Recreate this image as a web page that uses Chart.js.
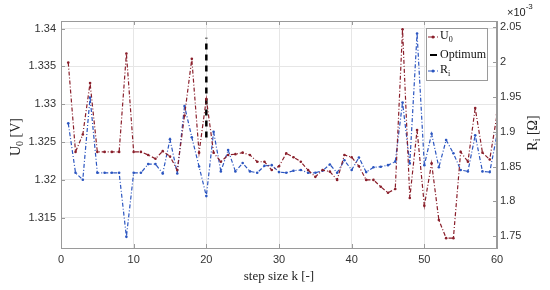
<!DOCTYPE html>
<html>
<head>
<meta charset="utf-8">
<script src="https://cdn.jsdelivr.net/npm/chart.js@4"></script>
<style>
  html, body { margin: 0; padding: 0; background: #fff; }
  #wrap { width: 550px; height: 290px; }
</style>
</head>
<body>
<div id="wrap"><canvas id="chart" width="550" height="290"></canvas></div>
<script>
// step size k = 1..60
const steps = Array.from({ length: 60 }, (_, i) => i + 1);

// U0 [V]
const u0 = [
  1.3355, 1.3237, 1.3260, 1.3328, 1.3237, 1.3237, 1.3237, 1.3237, 1.3367, 1.3237,
  1.3237, 1.3233, 1.3228, 1.3238, 1.3231, 1.3213, 1.3285, 1.3360, 1.3236, 1.3307,
  1.3236, 1.3224, 1.3233, 1.3234, 1.3236, 1.3233, 1.3224, 1.3224, 1.3213, 1.3218,
  1.3235, 1.3230, 1.3224, 1.3213, 1.3204, 1.3213, 1.3211, 1.3200, 1.3233, 1.3230,
  1.3218, 1.3200, 1.3200, 1.3191, 1.3183, 1.3188, 1.3399, 1.3176, 1.3266, 1.3166,
  1.3222, 1.3147, 1.3123, 1.3123, 1.3237, 1.3224, 1.3295, 1.3236, 1.3227, 1.3286
];

// Ri [Ohm] x 1e-3
const ri = [
  1.912, 1.841, 1.831, 1.949, 1.841, 1.841, 1.841, 1.841, 1.749, 1.841,
  1.841, 1.8535, 1.8535, 1.840, 1.889, 1.840, 1.937, 1.892, 1.850, 1.8075,
  1.900, 1.843, 1.8736, 1.843, 1.855, 1.843, 1.841, 1.851, 1.852, 1.842,
  1.841, 1.844, 1.845, 1.841, 1.841, 1.844, 1.853, 1.841, 1.859, 1.845,
  1.863, 1.842, 1.849, 1.8496, 1.852, 1.857, 1.942, 1.8545, 2.041, 1.852,
  1.897, 1.849, 1.888, 1.869, 1.845, 1.843, 1.895, 1.843, 1.842, 1.896
];

// optimum marker (k = 20)
const optK = [20, 20];
const optU = [1.3256, 1.3388];

const xTicks = [0, 10, 20, 30, 40, 50, 60];
const leftTicks = [1.315, 1.32, 1.325, 1.33, 1.335, 1.34];
const rightTicks = [1.75, 1.8, 1.85, 1.9, 1.95, 2, 2.05];

const RED = "#8a1f2b";
const BLUE = "#2b55c0";
const AXIS = "#9a9a9a";
const GRID = "#e6e6e6";
const SERIF = "'Liberation Serif', 'Times New Roman', serif";
const SANS = "'Liberation Sans', Arial, sans-serif";

const fmt = v => String(Number(v.toFixed(3)));

// text with a subscript piece, drawn in the current transform
function subText(ctx, base, sub, rest, x, y, size) {
  ctx.font = size + "px " + SERIF;
  ctx.fillText(base, x, y);
  let w = ctx.measureText(base).width;
  ctx.font = Math.round(size * 0.7) + "px " + SERIF;
  ctx.fillText(sub, x + w, y + size * 0.3);
  w += ctx.measureText(sub).width;
  ctx.font = size + "px " + SERIF;
  ctx.fillText(rest, x + w, y);
}
function subWidth(ctx, base, sub, rest, size) {
  ctx.font = size + "px " + SERIF;
  let w = ctx.measureText(base + rest).width;
  ctx.font = Math.round(size * 0.7) + "px " + SERIF;
  return w + ctx.measureText(sub).width;
}

const decor = {
  id: "decor",
  afterDraw(chart) {
    const { ctx, chartArea: a, scales } = chart;
    ctx.save();

    // box
    ctx.strokeStyle = AXIS;
    ctx.lineWidth = 1;
    ctx.strokeRect(a.left + 0.5, a.top + 0.5, a.right - a.left - 1, a.bottom - a.top);

    // inward ticks
    ctx.beginPath();
    xTicks.forEach(v => {
      const px = Math.round(scales.x.getPixelForValue(v)) + 0.5;
      ctx.moveTo(px, a.bottom); ctx.lineTo(px, a.bottom - 4);
      ctx.moveTo(px, a.top); ctx.lineTo(px, a.top + 4);
    });
    leftTicks.forEach(v => {
      const py = Math.round(scales.y.getPixelForValue(v)) + 0.5;
      ctx.moveTo(a.left, py); ctx.lineTo(a.left + 4, py);
    });
    rightTicks.forEach(v => {
      const py = Math.round(scales.y1.getPixelForValue(v)) + 0.5;
      ctx.moveTo(a.right, py); ctx.lineTo(a.right - 4, py);
    });
    ctx.stroke();

    ctx.fillStyle = "#222";
    ctx.textBaseline = "middle";
    ctx.textAlign = "left";

    // x title
    ctx.font = "13px " + SERIF;
    ctx.textAlign = "center";
    ctx.fillText("step size k [-]", (a.left + a.right) / 2, 277);
    ctx.textAlign = "left";

    // left title
    ctx.save();
    ctx.translate(16, 137);
    ctx.rotate(-Math.PI / 2);
    let w = subWidth(ctx, "U", "0", " [V]", 14);
    subText(ctx, "U", "0", " [V]", -w / 2, 0, 14);
    ctx.restore();

    // right title
    ctx.save();
    ctx.translate(533, 133);
    ctx.rotate(-Math.PI / 2);
    w = subWidth(ctx, "R", "i", " [\u03A9]", 14);
    subText(ctx, "R", "i", " [\u03A9]", -w / 2, 0, 14);
    ctx.restore();

    // exponent
    ctx.font = "11px " + SANS;
    ctx.fillText("\u00D710", 507, 13);
    const ew = ctx.measureText("\u00D710").width;
    ctx.font = "8px " + SANS;
    ctx.fillText("-3", 507 + ew, 7);

    // legend
    const lx = 426, ly = 28, lw = 61, lh = 52;
    ctx.fillStyle = "#fff";
    ctx.fillRect(lx, ly, lw, lh);
    ctx.strokeStyle = AXIS;
    ctx.strokeRect(lx + 0.5, ly + 0.5, lw, lh);
    const rows = [
      { y: 37, color: RED, dash: [4, 2, 1, 2], lwid: 1.2, dot: true },
      { y: 55, color: "#000", dash: [], lwid: 2, dot: false, short: true },
      { y: 71, color: BLUE, dash: [4, 2, 1, 2], lwid: 1.2, dot: true }
    ];
    rows.forEach(r => {
      ctx.strokeStyle = r.color;
      ctx.lineWidth = r.lwid;
      ctx.setLineDash(r.dash);
      ctx.beginPath();
      if (r.short) { ctx.moveTo(430, r.y); ctx.lineTo(437, r.y); }
      else { ctx.moveTo(428, r.y); ctx.lineTo(438, r.y); }
      ctx.stroke();
      ctx.setLineDash([]);
      if (r.dot) {
        ctx.fillStyle = r.color;
        ctx.beginPath(); ctx.arc(433, r.y, 1.5, 0, Math.PI * 2); ctx.fill();
      }
    });
    ctx.fillStyle = "#111";
    subText(ctx, "U", "0", "", 440, 36, 12);
    ctx.font = "12px " + SERIF;
    ctx.fillText("Optimum", 440, 55);
    subText(ctx, "R", "i", "", 440, 70, 12);

    ctx.restore();
  }
};

new Chart(document.getElementById("chart"), {
  type: "line",
  data: {
    datasets: [
      {
        label: "U0",
        data: steps.map((k, i) => ({ x: k, y: u0[i] })),
        yAxisID: "y",
        borderColor: RED,
        backgroundColor: RED,
        borderWidth: 1.2,
        borderDash: [4, 2, 1, 2],
        pointRadius: 1.3,
        pointBorderWidth: 0,
        tension: 0
      },
      {
        label: "Optimum",
        data: optK.map((k, i) => ({ x: k, y: optU[i] })),
        yAxisID: "y",
        borderColor: "#000",
        borderWidth: 2.5,
        borderDash: [6, 5],
        pointRadius: 0
      },
      {
        label: "Ri",
        data: steps.map((k, i) => ({ x: k, y: ri[i] })),
        yAxisID: "y1",
        borderColor: BLUE,
        backgroundColor: BLUE,
        borderWidth: 1.2,
        borderDash: [4, 2, 1, 2],
        pointRadius: 1.3,
        pointBorderWidth: 0,
        tension: 0
      }
    ]
  },
  options: {
    responsive: false,
    animation: false,
    layout: { padding: { top: 21, left: 0, right: 0, bottom: 0 } },
    plugins: { legend: { display: false }, tooltip: { enabled: false } },
    scales: {
      x: {
        type: "linear",
        min: 0, max: 60,
        afterBuildTicks: s => { s.ticks = xTicks.map(v => ({ value: v })); },
        afterFit: s => { s.height = 42; },
        ticks: { color: "#333", font: { family: SANS, size: 11 }, padding: 5, maxRotation: 0 },
        grid: { color: GRID, drawTicks: false },
        border: { color: AXIS }
      },
      y: {
        position: "left",
        min: 1.311, max: 1.341,
        afterBuildTicks: s => { s.ticks = leftTicks.map(v => ({ value: v })); },
        afterFit: s => { s.width = 61; },
        ticks: { color: "#333", font: { family: SANS, size: 11 }, padding: 5, callback: v => fmt(v) },
        grid: { color: GRID, drawTicks: false },
        border: { color: AXIS }
      },
      y1: {
        position: "right",
        min: 1.733, max: 2.059,
        afterBuildTicks: s => { s.ticks = rightTicks.map(v => ({ value: v })); },
        afterFit: s => { s.width = 53; },
        ticks: { color: "#333", font: { family: SANS, size: 11 }, padding: 3, callback: v => fmt(v) },
        grid: { display: false, drawTicks: false },
        border: { color: AXIS }
      }
    }
  },
  plugins: [decor]
});
</script>
</body>
</html>
